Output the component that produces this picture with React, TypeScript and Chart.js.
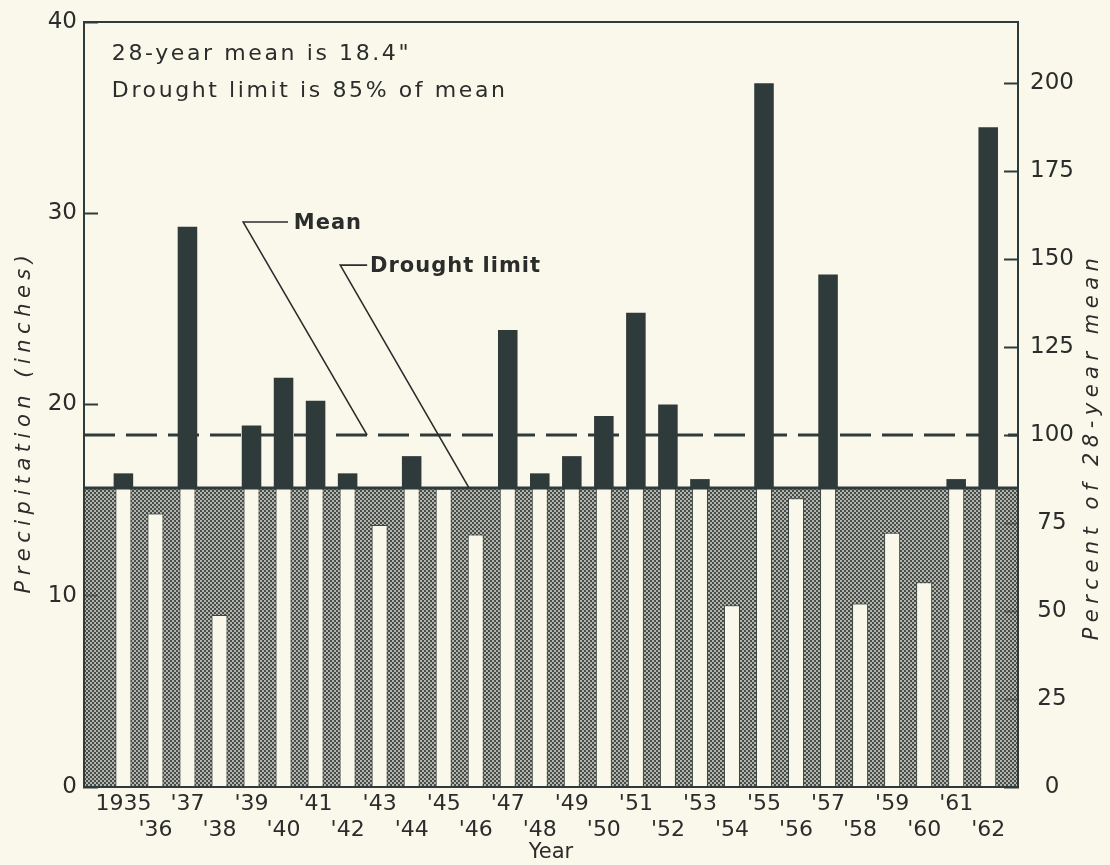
import { useEffect, useRef } from 'react';
import { Chart, registerables } from 'chart.js';

Chart.register(...registerables);

// ---------------- data ----------------
const YEARS = [
  1935, 1936, 1937, 1938, 1939, 1940, 1941, 1942, 1943, 1944, 1945, 1946, 1947, 1948,
  1949, 1950, 1951, 1952, 1953, 1954, 1955, 1956, 1957, 1958, 1959, 1960, 1961, 1962,
];
const YEAR_LABELS = [
  '1935', "'36", "'37", "'38", "'39", "'40", "'41", "'42", "'43", "'44", "'45", "'46", "'47", "'48",
  "'49", "'50", "'51", "'52", "'53", "'54", "'55", "'56", "'57", "'58", "'59", "'60", "'61", "'62",
];
// annual precipitation, inches
const PRECIP = [
  16.4, 14.3, 29.3, 9.0, 18.9, 21.4, 20.2, 16.4, 13.7, 17.3, 15.6, 13.2, 23.9, 16.4,
  17.3, 19.4, 24.8, 20.0, 16.1, 9.5, 36.8, 15.1, 26.8, 9.6, 13.3, 10.7, 16.1, 34.5,
];
const MEAN_IN = 18.4;
const DROUGHT_PCT = 85;
const DROUGHT_LIMIT = (MEAN_IN * DROUGHT_PCT) / 100;

const LEFT_MIN = 0;
const LEFT_MAX = 40;
const LEFT_STEP = 10;
const RIGHT_STEP = 25;
const X_MIN = 1933.77;
const X_MAX = 1962.93;

const NOTE_LINES = ['28-year mean is 18.4"', 'Drought limit is 85% of mean'];
const NOTE_ANCHOR_X = 1934.64;
const NOTE_BASELINES = [38.0, 36.08];

const MEAN_CALLOUT = { text: 'Mean', corner: [1938.74, 29.54], bend: 1940.14, textX: 1940.32, tail: [1942.61, MEAN_IN] };
const DROUGHT_CALLOUT = { text: 'Drought limit', corner: [1941.77, 27.29], bend: 1942.61, textX: 1942.7, tail: [1945.79, DROUGHT_LIMIT] };

const LEFT_TITLE = 'Precipitation (inches)';
const RIGHT_TITLE = 'Percent of 28-year mean';
const X_TITLE = 'Year';

// ---------------- style ----------------
const BG = '#faf8ea';
const DARK = '#2f3a3b';
const INK = '#2b2d2c';
const EDGE = '#3c4544';
const FONT = "'DejaVu Sans', 'Liberation Sans', sans-serif";

function makeStipple(): CanvasPattern | string {
  const c = document.createElement('canvas');
  c.width = 4;
  c.height = 4;
  const g = c.getContext('2d');
  if (!g) return '#7e817d';
  g.fillStyle = '#464d4c';
  g.fillRect(0, 0, 4, 4);
  g.fillStyle = '#b3b4aa';
  g.fillRect(0, 0, 2, 2);
  g.fillRect(2, 2, 2, 2);
  const p = g.createPattern(c, 'repeat');
  return p || '#7e817d';
}

function spacedText(ctx: any, text: string, x: number, y: number, spacing: number) {
  ctx.letterSpacing = spacing + 'px';
  ctx.fillText(text, x, y);
  ctx.letterSpacing = '0px';
}

const decorPlugin = {
  id: 'decor',
  beforeDraw(chart: any) {
    const { ctx, width, height } = chart;
    ctx.save();
    ctx.fillStyle = BG;
    ctx.fillRect(0, 0, width, height);
    ctx.restore();
  },
  beforeDatasetsDraw(chart: any) {
    const { ctx, chartArea: a, scales } = chart;
    const y = scales.y;
    const top = y.getPixelForValue(DROUGHT_LIMIT);
    const bottom = y.getPixelForValue(0);
    ctx.save();
    ctx.fillStyle = chart.$stipple || (chart.$stipple = makeStipple());
    ctx.fillRect(a.left, top, a.right - a.left, bottom - top);
    // mean line
    const my = y.getPixelForValue(MEAN_IN);
    ctx.strokeStyle = DARK;
    ctx.lineWidth = 3;
    ctx.setLineDash([31, 11]);
    ctx.beginPath();
    ctx.moveTo(a.left, my);
    ctx.lineTo(a.right, my);
    ctx.stroke();
    ctx.restore();
  },
  afterDatasetsDraw(chart: any) {
    const { ctx, chartArea: a, scales } = chart;
    const x = scales.x;
    const y = scales.y;
    ctx.save();
    // drought limit line
    const dy = y.getPixelForValue(DROUGHT_LIMIT);
    ctx.strokeStyle = DARK;
    ctx.lineWidth = 3;
    ctx.beginPath();
    ctx.moveTo(a.left, dy);
    ctx.lineTo(a.right, dy);
    ctx.stroke();
    // top frame
    ctx.lineWidth = 2;
    ctx.beginPath();
    ctx.moveTo(a.left - 1, a.top);
    ctx.lineTo(a.right + 1, a.top);
    ctx.stroke();

    // callouts
    ctx.lineWidth = 1.6;
    ctx.strokeStyle = INK;
    ctx.fillStyle = INK;
    ctx.textBaseline = 'middle';
    ctx.textAlign = 'left';
    ctx.font = `bold 21px ${FONT}`;
    for (const c of [MEAN_CALLOUT, DROUGHT_CALLOUT]) {
      const cx = x.getPixelForValue(c.corner[0]);
      const cy = y.getPixelForValue(c.corner[1]);
      ctx.beginPath();
      ctx.moveTo(x.getPixelForValue(c.tail[0]), y.getPixelForValue(c.tail[1]));
      ctx.lineTo(cx, cy);
      ctx.lineTo(x.getPixelForValue(c.bend), cy);
      ctx.stroke();
      spacedText(ctx, c.text, x.getPixelForValue(c.textX), cy + 1, 1);
    }

    // notes
    ctx.font = `22px ${FONT}`;
    ctx.textBaseline = 'alphabetic';
    NOTE_LINES.forEach((t, i) => {
      spacedText(ctx, t, x.getPixelForValue(NOTE_ANCHOR_X), y.getPixelForValue(NOTE_BASELINES[i]), 2.6);
    });

    // axis titles (rotated, reading bottom to top)
    ctx.font = `italic 21px ${FONT}`;
    ctx.textAlign = 'center';
    ctx.textBaseline = 'middle';
    const mid = (a.top + a.bottom) / 2;
    ctx.save();
    ctx.translate(25, mid + 17);
    ctx.rotate(-Math.PI / 2);
    spacedText(ctx, LEFT_TITLE, 0, 0, 5.5);
    ctx.restore();
    ctx.save();
    ctx.translate(a.right + 75, mid + 42);
    ctx.rotate(-Math.PI / 2);
    spacedText(ctx, RIGHT_TITLE, 0, 0, 5.5);
    ctx.restore();

    ctx.restore();
  },
};

const tickColor = (c: any) =>
  c.tick && c.tick.value > 0 && c.tick.value < (c.scale.id === 'y' ? DROUGHT_LIMIT : DROUGHT_PCT)
    ? 'rgba(40,50,50,0.45)'
    : DARK;

export default function App() {
  const ref = useRef<HTMLCanvasElement>(null);

  useEffect(() => {
    const canvas = ref.current;
    if (!canvas) return;

    const belowData = YEARS.map((yr, i) => ({ x: yr, y: [0, Math.min(PRECIP[i], DROUGHT_LIMIT)] }));
    const aboveData = YEARS.flatMap((yr, i) =>
      PRECIP[i] > DROUGHT_LIMIT ? [{ x: yr, y: [DROUGHT_LIMIT, PRECIP[i]] }] : []
    );

    const chart = new Chart(canvas, {
      type: 'bar',
      data: {
        datasets: [
          {
            label: 'Above drought limit',
            data: aboveData as any,
            backgroundColor: DARK,
            borderWidth: 0,
            barPercentage: 0.61,
            categoryPercentage: 1,
            grouped: false,
            order: 1,
          } as any,
          {
            label: 'Below drought limit',
            data: belowData as any,
            backgroundColor: BG,
            borderColor: EDGE,
            borderWidth: { left: 1, right: 1, top: 1, bottom: 0 },
            borderSkipped: false,
            barPercentage: 0.5,
            categoryPercentage: 1,
            grouped: false,
            order: 2,
          } as any,
        ],
      },
      options: {
        animation: false,
        responsive: true,
        maintainAspectRatio: false,
        layout: { padding: { top: 22, left: 0, right: 0, bottom: 0 } },
        plugins: {
          legend: { display: false },
          tooltip: { enabled: false },
        },
        scales: {
          x: {
            type: 'linear',
            min: X_MIN,
            max: X_MAX,
            offset: false,
            grid: { display: true, drawOnChartArea: false, drawTicks: false },
            border: { display: true, color: DARK, width: 2, z: 1 },
            ticks: {
              stepSize: 1,
              autoSkip: false,
              includeBounds: false,
              maxRotation: 0,
              minRotation: 0,
              padding: 5,
              color: INK,
              font: { family: FONT, size: 22, lineHeight: 1.15 },
              callback: (v: any) => {
                const i = YEARS.indexOf(Number(v));
                if (i < 0) return '';
                return i % 2 === 0 ? [YEAR_LABELS[i], ''] : ['', YEAR_LABELS[i]];
              },
            },
            title: {
              display: true,
              text: X_TITLE,
              color: INK,
              font: { family: FONT, size: 21, lineHeight: 1.2 },
              padding: { top: 0, bottom: 0 },
            },
            afterFit: (s: any) => {
              s.height = 78;
              s.paddingLeft = 0;
              s.paddingRight = 0;
            },
          } as any,
          y: {
            type: 'linear',
            position: 'left',
            min: LEFT_MIN,
            max: LEFT_MAX,
            grid: { drawOnChartArea: false, drawTicks: true, tickLength: -14, tickWidth: 2, tickColor, z: 1 },
            border: { display: true, color: DARK, width: 2, z: 1 },
            ticks: {
              stepSize: LEFT_STEP,
              padding: 21,
              color: INK,
              font: { family: FONT, size: 23 },
            },
            afterFit: (s: any) => {
              s.width = 84;
              s.paddingTop = 0;
              s.paddingBottom = 0;
            },
          } as any,
          yPct: {
            type: 'linear',
            position: 'right',
            min: 0,
            max: (LEFT_MAX / MEAN_IN) * 100,
            grid: { drawOnChartArea: false, drawTicks: true, tickLength: -14, tickWidth: 2, tickColor, z: 1 },
            border: { display: true, color: DARK, width: 2, z: 1 },
            ticks: {
              stepSize: RIGHT_STEP,
              includeBounds: false,
              crossAlign: 'center',
              padding: 26,
              color: INK,
              font: { family: FONT, size: 23 },
            },
            afterFit: (s: any) => {
              s.width = 92;
              s.paddingTop = 0;
              s.paddingBottom = 0;
            },
          } as any,
        },
      },
      plugins: [decorPlugin],
    });

    return () => chart.destroy();
  }, []);

  return (
    <div style={{ position: 'fixed', left: 0, top: 0, width: 1110, height: 865, background: BG }}>
      <canvas ref={ref} />
    </div>
  );
}
